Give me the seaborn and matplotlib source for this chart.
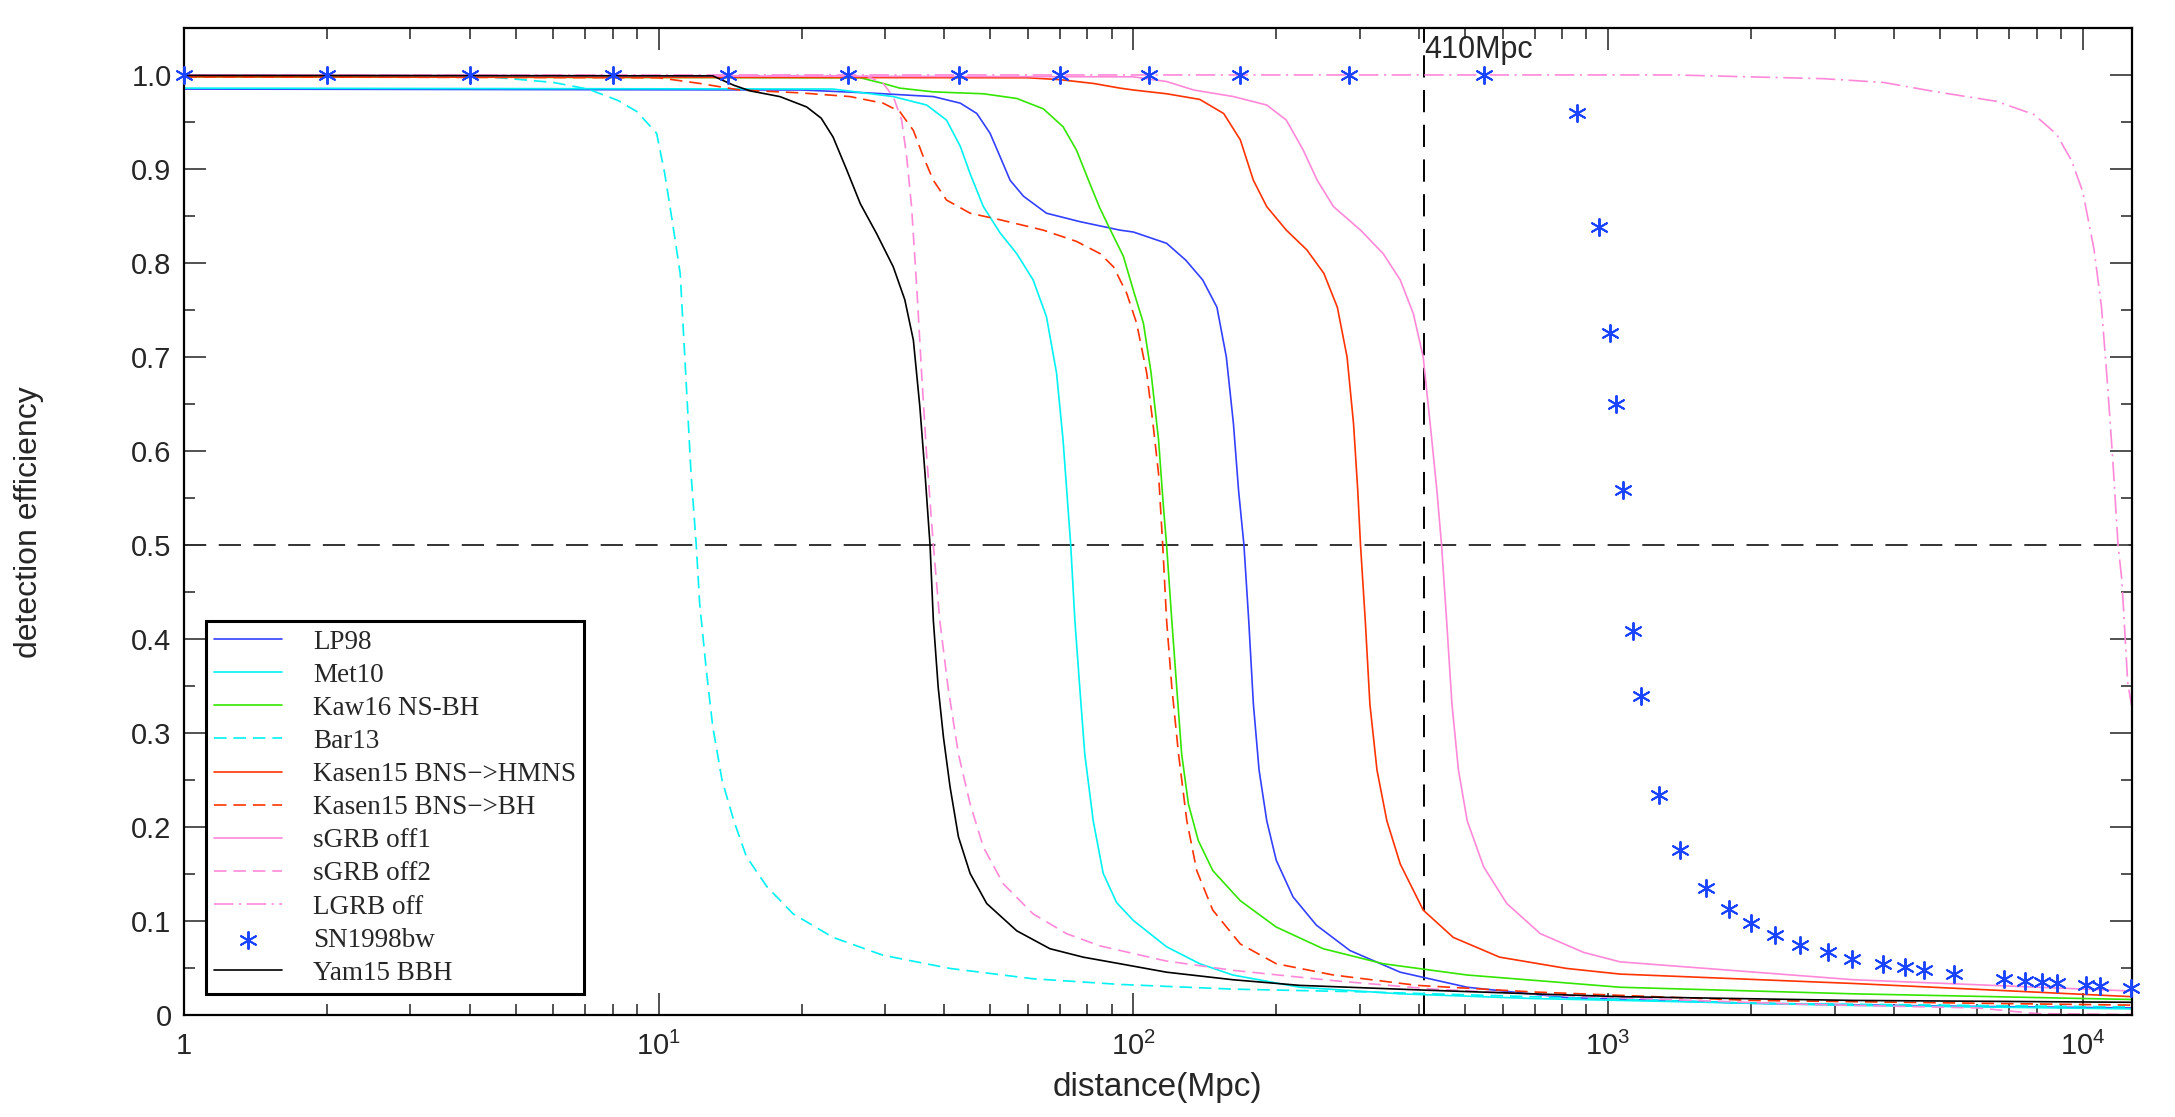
import numpy as np
import pandas as pd
import matplotlib
matplotlib.use("Agg")
import matplotlib.pyplot as plt
from matplotlib.ticker import FixedLocator, FixedFormatter, LogLocator, NullFormatter, MultipleLocator
import seaborn as sns

# values (distance in Mpc, detection efficiency)
lp98_d = [1, 20, 27.4, 37.9, 43.2, 46.8, 49.9, 52.4, 55.0, 58.7, 65.6, 77.2, 93.7, 100, 117.5, 129, 140, 150,
          157, 162.5, 166.6, 171, 175, 179, 184, 191, 200, 217, 243, 286, 365, 505, 818, 2000, 5000, 12670]
lp98_e = [0.985, 0.984, 0.981, 0.977, 0.970, 0.959, 0.938, 0.913, 0.888, 0.871, 0.853, 0.844, 0.835, 0.833,
          0.821, 0.803, 0.782, 0.753, 0.700, 0.629, 0.558, 0.500, 0.420, 0.331, 0.261, 0.207, 0.165, 0.126,
          0.096, 0.069, 0.046, 0.030, 0.019, 0.013, 0.010, 0.008]

met10_d = [1, 23.3, 31.2, 36.7, 40.4, 43.2, 45.3, 48.3, 52.4, 56.8, 61.5, 65.6, 68.9, 71.1, 73.8, 75.3, 77.1,
           79.0, 82.3, 86.4, 92.2, 100, 117.5, 138, 162, 224, 365, 695, 1060, 3000, 12670]
met10_e = [0.986, 0.985, 0.977, 0.968, 0.952, 0.924, 0.895, 0.860, 0.832, 0.810, 0.782, 0.743, 0.683, 0.612,
           0.500, 0.420, 0.349, 0.278, 0.207, 0.151, 0.120, 0.101, 0.073, 0.055, 0.043, 0.030, 0.023, 0.018,
           0.016, 0.011, 0.007]

kaw16_d = [1, 26.6, 29.7, 32.2, 37.9, 48.3, 56.8, 64.6, 71.1, 75.9, 80.9, 84.9, 89.3, 95.3, 100, 105, 109, 113,
           115.7, 117.5, 120.5, 123.4, 126.4, 130.6, 137, 147, 168, 200, 251, 336, 505, 755, 1060, 3290, 12670]
kaw16_e = [0.998, 0.997, 0.991, 0.986, 0.982, 0.980, 0.975, 0.964, 0.945, 0.920, 0.885, 0.859, 0.836, 0.807,
           0.771, 0.736, 0.683, 0.612, 0.541, 0.500, 0.420, 0.349, 0.278, 0.225, 0.186, 0.154, 0.122, 0.094,
           0.071, 0.055, 0.043, 0.036, 0.030, 0.023, 0.017]

bar13_d = [1, 4.4, 6.0, 7.1, 8.2, 9.0, 9.9, 10.3, 10.7, 11.1, 11.3, 11.5, 11.7, 12.0, 12.2, 12.6, 13.0, 13.6,
           14.4, 15.3, 16.9, 19.2, 23.3, 29.7, 41.1, 61.5, 93.7, 162, 310, 591, 2000, 12670]
bar13_e = [0.998, 0.998, 0.992, 0.985, 0.973, 0.961, 0.938, 0.895, 0.842, 0.789, 0.718, 0.647, 0.576, 0.500,
           0.438, 0.367, 0.307, 0.250, 0.207, 0.169, 0.137, 0.108, 0.083, 0.064, 0.050, 0.039, 0.033, 0.028,
           0.025, 0.021, 0.013, 0.009]

hmns_d = [1, 60, 70, 82.3, 93.7, 100, 117.5, 138, 155, 168, 179, 191, 210, 232, 252, 269, 282, 291, 297, 301,
          308, 315, 326, 342, 365, 408, 472, 591, 818, 1060, 3290, 12670]
hmns_e = [0.998, 0.997, 0.995, 0.991, 0.986, 0.984, 0.980, 0.974, 0.959, 0.931, 0.888, 0.860, 0.835, 0.814,
          0.789, 0.753, 0.700, 0.629, 0.558, 0.500, 0.420, 0.331, 0.261, 0.207, 0.161, 0.112, 0.083, 0.062,
          0.050, 0.044, 0.034, 0.020]

bnsbh_d = [1, 10, 12.2, 14.8, 19.8, 25.3, 29.7, 32.2, 34.4, 36.1, 37.9, 40.4, 45.3, 52.4, 64.6, 75.9, 85.1, 90.8,
           96.8, 101.6, 106.7, 110, 113, 115.3, 117.5, 120.5, 124.5, 129.6, 136, 147, 168, 200, 264, 396, 695,
           2000, 12670]
bnsbh_e = [0.998, 0.997, 0.991, 0.984, 0.981, 0.977, 0.970, 0.961, 0.941, 0.913, 0.888, 0.867, 0.853, 0.846,
           0.835, 0.823, 0.810, 0.796, 0.768, 0.736, 0.683, 0.629, 0.576, 0.500, 0.420, 0.349, 0.278, 0.207,
           0.154, 0.112, 0.076, 0.055, 0.043, 0.032, 0.025, 0.016, 0.011]

sgrb1_d = [1, 100, 117.5, 134, 162.5, 191, 210, 228, 244, 264, 301, 336, 365, 389, 408, 422, 436, 446, 457, 469,
           484, 505, 547, 612, 720, 889, 1060, 3290, 12670]
sgrb1_e = [1.0, 0.998, 0.993, 0.984, 0.977, 0.968, 0.952, 0.920, 0.888, 0.860, 0.835, 0.810, 0.782, 0.746, 0.700,
           0.629, 0.558, 0.500, 0.420, 0.331, 0.261, 0.207, 0.158, 0.119, 0.087, 0.067, 0.057, 0.038, 0.026]

sgrb2_d = [1, 27.4, 29.7, 31.2, 32.5, 33.3, 34.1, 35.0, 35.8, 36.7, 37.9, 39.1, 40.7, 42.8, 45.3, 48.3, 53.2,
           61.5, 72.3, 85, 117, 162, 264, 428, 818, 2500, 6000, 8000, 12670]
sgrb2_e = [1.0, 0.999, 0.991, 0.977, 0.952, 0.913, 0.860, 0.771, 0.683, 0.594, 0.500, 0.420, 0.349, 0.278, 0.225,
           0.179, 0.140, 0.108, 0.087, 0.074, 0.058, 0.048, 0.037, 0.028, 0.021, 0.012, 0.008, 0.002, 0.001]

lgrb_d = [1, 1380, 2855, 3810, 4920, 6580, 7890, 8810, 9470, 10000, 10560, 10950, 11270, 11570, 11870, 12090,
          12440, 12670]
lgrb_e = [1.0, 1.0, 0.996, 0.992, 0.982, 0.972, 0.958, 0.937, 0.909, 0.876, 0.815, 0.754, 0.673, 0.591, 0.500,
          0.463, 0.354, 0.330]

sn98_d = [1, 2, 4, 8, 14, 25, 43, 70, 108, 168, 284, 549, 859, 957, 1012, 1039, 1074, 1130, 1172, 1283, 1420,
          1611, 1800, 1997, 2250, 2535, 2905, 3260, 3800, 4230, 4627, 5350, 6830, 7540, 8200, 8830, 10140,
          10900, 12620]
sn98_e = [1.0] * 12 + [0.960, 0.838, 0.726, 0.650, 0.559, 0.409, 0.340, 0.234, 0.176, 0.135, 0.113, 0.0986,
                       0.0857, 0.0752, 0.0674, 0.0603, 0.0543, 0.051, 0.0482, 0.0443, 0.0383, 0.0369, 0.0355,
                       0.0344, 0.032, 0.031, 0.0293]

yam15_d = [1, 13, 14.4, 15.6, 18.0, 20.5, 22.0, 23.3, 24.9, 26.6, 28.8, 31.2, 33.0, 34.4, 35.5, 36.4, 37.3, 37.9,
           38.8, 39.8, 41.1, 42.8, 45.3, 49.1, 56.8, 66.7, 78.4, 93.7, 117.5, 162, 224, 408, 695, 1060, 3290,
           12670]
yam15_e = [0.9995, 0.999, 0.989, 0.983, 0.977, 0.966, 0.954, 0.934, 0.899, 0.863, 0.831, 0.796, 0.761, 0.718,
           0.647, 0.576, 0.500, 0.420, 0.349, 0.296, 0.243, 0.190, 0.151, 0.119, 0.090, 0.071, 0.062, 0.055,
           0.046, 0.038, 0.032, 0.027, 0.023, 0.020, 0.016, 0.014]

half_eff = 0.5
marked_dist = 410

xticks = [1, 10, 100, 1000, 10000]
xticklabels = ["1", r"$\mathdefault{10^{1}}$", r"$\mathdefault{10^{2}}$", r"$\mathdefault{10^{3}}$",
               r"$\mathdefault{10^{4}}$"]
yticks = [0, 0.1, 0.2, 0.3, 0.4, 0.5, 0.6, 0.7, 0.8, 0.9, 1.0]
yticklabels = ["0", "0.1", "0.2", "0.3", "0.4", "0.5", "0.6", "0.7", "0.8", "0.9", "1.0"]

sns.set_style("ticks")
plt.rcParams["font.family"] = ["Liberation Sans", "DejaVu Sans"]
plt.rcParams["lines.scale_dashes"] = False

BLUE = "#3340ff"
CYAN = "#00f2f2"
GREEN = "#33e600"
RED = "#ff3300"
PINK = "#ff88d8"
DASH = (0, (9, 5))
DASHDOT = (0, (14, 4, 1.5, 4))

fig = plt.figure(figsize=(21.75, 11.17), dpi=100)
ax = fig.add_axes([0.0846, 0.0909, 0.8954, 0.8841])
ax.set_xscale("log")

series = [
    (lp98_d, lp98_e, BLUE, "-", "LP98"),
    (met10_d, met10_e, CYAN, "-", "Met10"),
    (kaw16_d, kaw16_e, GREEN, "-", "Kaw16 NS-BH"),
    (bar13_d, bar13_e, CYAN, DASH, "Bar13"),
    (hmns_d, hmns_e, RED, "-", "Kasen15 BNS\u2212>HMNS"),
    (bnsbh_d, bnsbh_e, RED, DASH, "Kasen15 BNS\u2212>BH"),
    (sgrb1_d, sgrb1_e, PINK, "-", "sGRB off1"),
    (sgrb2_d, sgrb2_e, PINK, DASH, "sGRB off2"),
    (lgrb_d, lgrb_e, PINK, DASHDOT, "LGRB off"),
]
for d, e, col, ls, lab in series:
    sns.lineplot(x=d, y=e, ax=ax, color=col, linestyle=ls, lw=1.2, label=lab,
                 sort=False, estimator=None)

sns.scatterplot(x=sn98_d, y=sn98_e, ax=ax, marker=(6, 2, 0), s=150, color="#1a44ff",
                linewidth=1.4, label="SN1998bw", zorder=5, clip_on=False)

sns.lineplot(x=yam15_d, y=yam15_e, ax=ax, color="black", lw=1.2, label="Yam15 BBH",
             sort=False, estimator=None)

ax.axhline(half_eff, color="#333333", lw=1.4, linestyle=(0, (16, 9)), zorder=1)
ax.axvline(marked_dist, color="black", lw=1.4, linestyle=(0, (16, 9)), zorder=1)
ax.text(marked_dist, 1.018, "410Mpc", fontsize=22, ha="left", va="baseline")

ax.set_xlim(1, 1.267e4)
ax.set_ylim(0, 1.05)
ax.xaxis.set_major_locator(FixedLocator(xticks))
ax.xaxis.set_major_formatter(FixedFormatter(xticklabels))
ax.xaxis.set_minor_locator(LogLocator(base=10, subs=np.arange(2, 10), numticks=20))
ax.xaxis.set_minor_formatter(NullFormatter())
ax.set_yticks(yticks, yticklabels)
ax.yaxis.set_minor_locator(MultipleLocator(0.05))
ax.tick_params(which="both", direction="in", top=True, right=True, width=1.1, color="#222222")
ax.tick_params(which="major", length=16, labelsize=21)
ax.tick_params(which="minor", length=8)
ax.tick_params(axis="x", which="major", pad=12)
ax.tick_params(axis="y", which="major", pad=9)
for sp in ax.spines.values():
    sp.set_linewidth(1.6)
    sp.set_color("black")

ax.set_xlabel("distance(Mpc)", fontsize=24)
ax.set_ylabel("detection efficiency", fontsize=23)
ax.xaxis.set_label_coords(0.5, -0.057)
ax.yaxis.set_label_coords(-0.072, 0.5)

leg = ax.legend(loc="lower left", bbox_to_anchor=(0.0113, 0.0218), borderaxespad=0,
                prop={"family": ["Liberation Serif", "DejaVu Serif"], "size": 19.5},
                frameon=True, fancybox=False, edgecolor="black", framealpha=1,
                borderpad=0.3, labelspacing=0.3, handlelength=2.5, handletextpad=1.15,
                scatterpoints=1)
leg.get_frame().set_linewidth(2.2)

fig.savefig("out.png", dpi=100)
